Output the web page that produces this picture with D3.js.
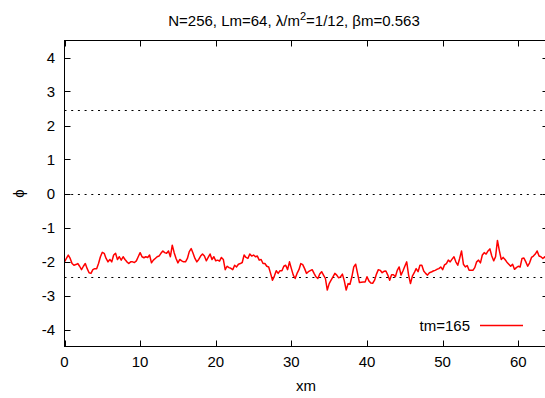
<!DOCTYPE html>
<html>
<head>
<meta charset="utf-8">
<script src="https://cdn.jsdelivr.net/npm/d3@7"></script>
<style>
  html, body { margin: 0; padding: 0; background: #fff; }
  text { font-family: "Liberation Sans", Arial, sans-serif; font-size: 15px; fill: #000; }
</style>
</head>
<body>
<svg id="chart" width="545" height="398"></svg>
<script>
// 数据
// ====
const N = 256
const Lm = 64
const xTicks = [0, 10, 20, 30, 40, 50, 60]
const yTicks = [-4, -3, -2, -1, 0, 1, 2, 3, 4]
const refLines = [-2.449, 0, 2.449]
const legendLabel = 'tm=165'

// phi(x), x = i * Lm / N
const phi = [
  -2.01, -1.91, -1.81, -1.91, -2.06, -2.11, -2.09, -2.06,
  -2.14, -2.24, -2.14, -2.06, -2.21, -2.33, -2.35, -2.24,
  -2.21, -2.21, -2.06, -1.86, -1.73, -1.76, -1.91, -2.01,
  -1.94, -2.01, -1.81, -1.76, -1.94, -1.86, -1.96, -1.86,
  -1.94, -2.01, -2.06, -2.01, -2.01, -2.03, -1.98, -1.86,
  -1.74, -1.86, -1.89, -1.86, -1.88, -1.81, -2.04, -1.96,
  -1.91, -1.86, -1.84, -1.76, -1.69, -1.74, -1.76, -1.69,
  -1.86, -1.52, -1.74, -1.91, -2.04, -1.94, -1.98, -2.01,

  -2.01, -1.91, -1.71, -1.62, -1.76, -1.91, -2.01, -1.94,
  -1.84, -1.78, -1.84, -1.98, -1.88, -1.78, -1.94, -1.86,
  -1.98, -1.96, -1.99, -1.88, -1.94, -2.24, -2.14, -2.18,
  -2.20, -2.24, -2.11, -2.16, -2.08, -2.06, -2.03, -1.81,
  -1.88, -1.91, -1.78, -1.84, -1.81, -1.86, -1.84, -1.96,
  -1.94, -2.06, -2.06, -2.14, -2.16, -2.35, -2.55, -2.43,
  -2.27, -2.35, -2.27, -2.27, -2.14, -2.11, -2.24, -2.01,
  -2.21, -2.40, -2.50, -2.35, -2.24, -2.06, -2.09, -2.21,

  -2.35, -2.30, -2.27, -2.24, -2.35, -2.45, -2.50, -2.37,
  -2.30, -2.40, -2.50, -2.84, -2.65, -2.55, -2.45, -2.35,
  -2.40, -2.48, -2.45, -2.37, -2.57, -2.84, -2.65, -2.67,
  -2.45, -2.16, -2.08, -2.35, -2.62, -2.61, -2.60, -2.60,
  -2.45, -2.57, -2.63, -2.64, -2.55, -2.37, -2.24, -2.26,
  -2.33, -2.29, -2.28, -2.40, -2.55, -2.39, -2.39, -2.45,
  -2.26, -2.16, -2.40, -2.28, -2.14, -2.01, -2.40, -2.65,
  -2.43, -2.33, -2.21, -2.30, -2.11, -2.11, -2.28, -2.35,

  -2.40, -2.33, -2.31, -2.28, -2.26, -2.23, -2.21, -2.16,
  -2.24, -2.10, -2.06, -1.96, -2.01, -1.93, -1.86, -2.01,
  -2.11, -1.91, -1.69, -2.08, -2.16, -2.12, -2.26, -2.26,
  -2.26, -2.18, -2.01, -1.96, -2.04, -1.81, -1.74, -1.78,
  -1.69, -1.63, -1.84, -1.98, -1.86, -1.38, -1.68, -1.94,
  -1.88, -1.94, -2.02, -2.08, -2.14, -2.08, -2.23, -2.18,
  -2.14, -2.16, -1.91, -1.90, -2.01, -2.14, -2.04, -1.88,
  -1.84, -1.78, -1.69, -1.84, -1.86, -1.91, -1.86, -1.96
]

// 布局
// ====
const margin = { left: 64.5, right: 548.5, top: 40.5, bottom: 346.5 }
const tickSize = 6

const svg = d3.select('#chart')

const x = d3.scaleLinear().domain([0, Lm]).range([margin.left, margin.right])
const y = d3.scaleLinear().domain([-4.5, 4.5]).range([margin.bottom, margin.top])

/**
 * 绘制边框和四边刻度
 */
function drawFrame(selection) {
  const g = selection.append('g')
    .attr('fill', 'none')
    .attr('stroke', '#000')
    .attr('stroke-width', 1)

  g.append('rect')
    .attr('x', margin.left)
    .attr('y', margin.top)
    .attr('width', margin.right - margin.left)
    .attr('height', margin.bottom - margin.top)

  xTicks.forEach(t => {
    const px = Math.round(x(t)) + 0.5
    g.append('path').attr('d', `M${px} ${margin.bottom} V${margin.bottom - tickSize}`)
    g.append('path').attr('d', `M${px} ${margin.top} V${margin.top + tickSize}`)
  })
  yTicks.forEach(t => {
    const py = Math.round(y(t)) + 0.5
    g.append('path').attr('d', `M${margin.left} ${py} H${margin.left + tickSize}`)
    g.append('path').attr('d', `M${margin.right} ${py} H${margin.right - tickSize}`)
  })
}

/**
 * 绘制刻度文字和坐标轴标题
 */
function drawLabels(selection) {
  selection.selectAll('text.x-tick')
    .data(xTicks)
    .enter()
    .append('text')
    .attr('x', d => x(d))
    .attr('y', 367)
    .attr('text-anchor', 'middle')
    .text(d => d)

  selection.selectAll('text.y-tick')
    .data(yTicks)
    .enter()
    .append('text')
    .attr('x', 55)
    .attr('y', d => y(d))
    .attr('dy', '.36em')
    .attr('text-anchor', 'end')
    .text(d => d)

  selection.append('text')
    .attr('x', 306)
    .attr('y', 391)
    .attr('text-anchor', 'middle')
    .text('xm')

  selection.append('text')
    .attr('transform', `translate(24, ${y(0)}) rotate(-90)`)
    .attr('text-anchor', 'middle')
    .attr('font-family', 'DejaVu Sans, sans-serif')
    .text('ϕ')

  // 标题
  const title = selection.append('text')
    .attr('x', 294)
    .attr('y', 26)
    .attr('text-anchor', 'middle')
  title.append('tspan').text('N=256, Lm=64, λ/m')
  title.append('tspan').attr('dy', -6).attr('font-size', 11).text('2')
  title.append('tspan').attr('dy', 6).text('=1/12, βm=0.563')
}

/**
 * 绘制参考虚线
 */
function drawRefLines(selection) {
  selection.selectAll('path.ref')
    .data(refLines)
    .enter()
    .append('path')
    .attr('d', d => `M${margin.left} ${Math.round(y(d)) + 0.5} H${margin.right}`)
    .attr('fill', 'none')
    .attr('stroke', '#000')
    .attr('stroke-width', 1)
    .attr('stroke-dasharray', '2,4.7')
}

/**
 * 绘制场曲线和图例
 */
function drawSeries(selection) {
  const line = d3.line()
    .x((d, i) => x(i * Lm / N))
    .y(d => y(d))

  selection.append('path')
    .datum(phi)
    .attr('d', line)
    .attr('fill', 'none')
    .attr('stroke', '#ff0000')
    .attr('stroke-width', 1.5)
    .attr('stroke-linejoin', 'round')

  selection.append('text')
    .attr('x', 470)
    .attr('y', 331)
    .attr('text-anchor', 'end')
    .text(legendLabel)

  selection.append('path')
    .attr('d', 'M480 325.5 H523')
    .attr('stroke', '#ff0000')
    .attr('stroke-width', 1.5)
}

const clip = svg.append('clipPath').attr('id', 'plot-clip')
clip.append('rect')
  .attr('x', margin.left)
  .attr('y', margin.top)
  .attr('width', margin.right - margin.left)
  .attr('height', margin.bottom - margin.top)

svg.call(drawRefLines)
svg.append('g').attr('clip-path', 'url(#plot-clip)').call(drawSeries)
svg.call(drawFrame)
svg.call(drawLabels)
</script>
</body>
</html>
